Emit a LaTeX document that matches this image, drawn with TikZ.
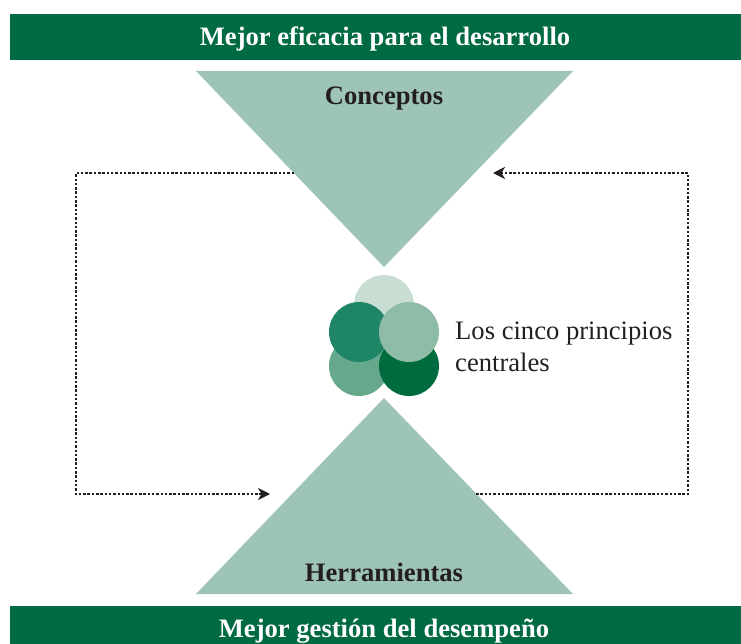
\documentclass[tikz,border=0pt]{standalone}
\usepackage{fontspec}
\setmainfont{Liberation Serif}
\usetikzlibrary{arrows.meta}

\definecolor{bannergreen}{RGB}{0,106,66}
\definecolor{trigreen}{RGB}{158,196,181}
\definecolor{textgray}{RGB}{35,31,32}
\definecolor{cpale}{RGB}{200,222,211}
\definecolor{cteal}{RGB}{30,133,102}
\definecolor{csage}{RGB}{142,188,166}
\definecolor{cmid}{RGB}{102,168,139}
\definecolor{cdark}{RGB}{0,107,63}

\tikzset{
  bannertext/.style={text=white, font=\fontsize{26.6}{30}\selectfont\bfseries, anchor=base, inner sep=0pt},
  trilabel/.style={text=textgray, font=\fontsize{26.6}{30}\selectfont\bfseries, anchor=base, inner sep=0pt},
  loopline/.style={draw=textgray, line width=1.2pt, dash pattern=on 2.5pt off 1.8pt},
  looparrow/.style={loopline, -{Stealth[length=12pt,width=12pt,inset=3.5pt]}}
}

\begin{document}
\begin{tikzpicture}[x=1pt,y=-1pt]
	\useasboundingbox (0,0) rectangle (741,644);

	% banners
	\fill[bannergreen] (10,14) rectangle (741,60);
	\node[bannertext] (top) at (385,46) {Mejor eficacia para el desarrollo};
	\fill[bannergreen] (10,606) rectangle (741,644);
	\node[bannertext] (bottom) at (384,637) {Mejor gestión del desempeño};

	% triangles
	\fill[trigreen] (196,71) -- (573,71) -- (384,267) -- cycle;
	\node[trilabel] (conceptos) at (384,105) {Conceptos};
	\fill[trigreen] (384,398) -- (573,594) -- (196,594) -- cycle;
	\node[trilabel] (herramientas) at (384,581) {Herramientas};

	% circles
	\foreach \cx/\cy/\col in {384/305/cpale, 359/366/cmid, 409/366/cdark, 359/332/cteal, 409/332/csage}
		\fill[\col] (\cx,\cy) circle (30);
	\node[anchor=base west, align=left, text=textgray, inner sep=0pt,
		font=\fontsize{26.6}{32}\selectfont] (principios) at (455,371)
		{Los cinco principios\\centrales};

	% feedback loops
	\coordinate (cl) at (294,173);
	\coordinate (cr) at (493,173);
	\coordinate (hl) at (270,494);
	\coordinate (hr) at (476,494);
	\draw[looparrow] (cl) -- (76,173) -- (76,494) -- (hl);
	\draw[looparrow] (hr) -- (688,494) -- (688,173) -- (cr);
\end{tikzpicture}
\end{document}
